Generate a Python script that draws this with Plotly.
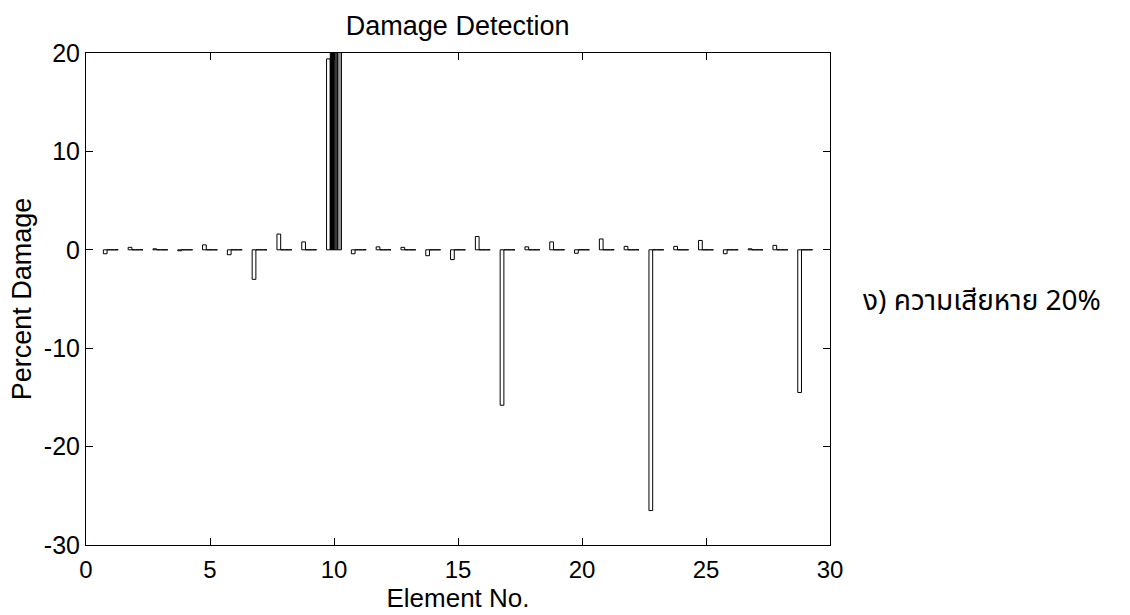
import plotly.graph_objects as go

# Element numbers along the structure
elements = list(range(1, 30))

# Identified percent damage per element
identified = [-0.4, 0.25, 0.1, -0.1, 0.5, -0.5, -3.0, 1.6, 0.8, 19.4,
              -0.4, 0.3, 0.25, -0.6, -1.0, 1.35, -15.8, 0.3, 0.8, -0.35,
              1.1, 0.35, -26.5, 0.35, 0.95, -0.4, 0.1, 0.45, -14.5]

# Reference damage cases (only element 10 is damaged)
case_b = [0] * 9 + [20.5] + [0] * 19
case_c = [0] * 9 + [20.5] + [0] * 19
case_d = [0] * 9 + [20.5] + [0] * 19

series = [
    ("identified", identified, "white"),
    ("case b", case_b, "black"),
    ("case c", case_c, "#3a3a3a"),
    ("case d", case_d, "#9a9a9a"),
]

x_ticks = [0, 5, 10, 15, 20, 25, 30]
y_ticks = [-30, -20, -10, 0, 10, 20]
y_labels = [str(v) for v in y_ticks]

fig = go.Figure()
for name, vals, color in series:
    fig.add_trace(go.Bar(
        x=elements, y=vals, name=name,
        marker=dict(color=color, line=dict(color="black", width=1)),
        showlegend=False,
    ))

FONT = "Arial"
fig.update_layout(
    width=1130, height=615,
    margin=dict(l=86, r=300, t=53, b=70),
    paper_bgcolor="white", plot_bgcolor="white",
    barmode="group", bargap=0.4, bargroupgap=0,
    font=dict(family=FONT, size=25, color="black"),
    title=dict(text="Damage Detection", x=0.405, xanchor="center",
               y=0.958, yanchor="middle",
               font=dict(family=FONT, size=27, color="black")),
)
fig.update_xaxes(
    range=[0, 30], tickvals=x_ticks, ticktext=[str(v) for v in x_ticks],
    ticks="inside", ticklen=7, ticklabelstandoff=3, automargin=False,
    tickcolor="black", linecolor="black", linewidth=1, mirror="ticks",
    showgrid=False, zeroline=False,
    title=dict(text="Element No.", standoff=4,
               font=dict(family=FONT, size=26, color="black")),
    tickfont=dict(family=FONT, size=24, color="black"),
)
fig.update_yaxes(
    range=[-30, 20], tickvals=y_ticks, ticktext=y_labels,
    ticks="inside", ticklen=7, ticklabelstandoff=0, automargin=False,
    tickcolor="black", linecolor="black", linewidth=1, mirror="ticks",
    showgrid=False, zeroline=False,
    title=dict(text="Percent Damage", standoff=4,
               font=dict(family=FONT, size=27, color="black")),
    tickfont=dict(family=FONT, size=25, color="black"),
)
fig.add_annotation(
    text="ง) ความเสียหาย 20%", xref="paper", yref="paper",
    x=1.042, y=0.495, xanchor="left", yanchor="middle", showarrow=False,
    font=dict(size=28, family="Noto Sans Thai, Tahoma, sans-serif", color="black"),
)

fig.write_html("out.html")
